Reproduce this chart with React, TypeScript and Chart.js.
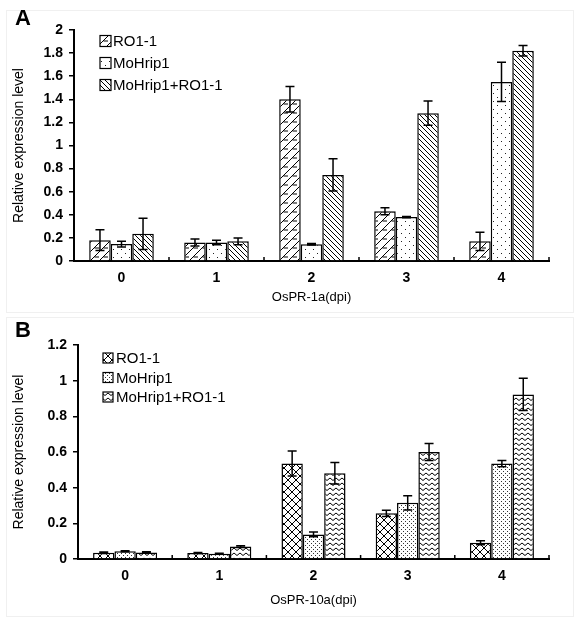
import React, { useEffect, useRef } from "react";
import { Chart, registerables } from "chart.js";
Chart.register(...registerables);

// ---------- data ----------
const categories = ["0", "1", "2", "3", "4"];
const seriesNames = ["RO1-1", "MoHrip1", "MoHrip1+RO1-1"];

// Panel A: OsPR-1a
const aTitleX = "OsPR-1a(dpi)";
const aRO1 = [0.18, 0.16, 1.4, 0.43, 0.17];
const aRO1Err = [0.09, 0.03, 0.11, 0.03, 0.08];
const aMoHrip1 = [0.147, 0.16, 0.145, 0.38, 1.55];
const aMoHrip1Err = [0.025, 0.02, 0.006, 0.006, 0.17];
const aCombo = [0.235, 0.17, 0.745, 1.28, 1.82];
const aComboErr = [0.135, 0.03, 0.14, 0.105, 0.046];
const aYMax = 2;
const aYStep = 0.2;

// Panel B: OsPR-10a
const bTitleX = "OsPR-10a(dpi)";
const bRO1 = [0.035, 0.034, 0.535, 0.256, 0.091];
const bRO1Err = [0.004, 0.003, 0.07, 0.017, 0.011];
const bMoHrip1 = [0.043, 0.03, 0.138, 0.315, 0.535];
const bMoHrip1Err = [0.003, 0.002, 0.013, 0.04, 0.018];
const bCombo = [0.037, 0.07, 0.481, 0.6, 0.923];
const bComboErr = [0.003, 0.005, 0.06, 0.047, 0.09];
const bYMax = 1.2;
const bYStep = 0.2;

const yTitle = "Relative expression level";
const FONT = "'Liberation Sans', Arial, Helvetica, sans-serif";

// ---------- patterns ----------
function makePattern(kind: string): CanvasPattern | string {
  const c = document.createElement("canvas");
  let w = 8, h = 8;
  if (kind === "diagDense") { w = 5; h = 5; }
  if (kind === "dotsDense") { w = 4; h = 4; }
  if (kind === "wave") { w = 6; h = 5; }
  if (kind === "shingle") { w = 9; h = 9; }
  c.width = w; c.height = h;
  const g = c.getContext("2d");
  if (!g) return "#fff";
  g.fillStyle = "#fff";
  g.fillRect(0, 0, w, h);
  g.strokeStyle = "#000";
  g.fillStyle = "#000";
  g.lineWidth = 1;
  const line = (x1: number, y1: number, x2: number, y2: number) => {
    g.beginPath(); g.moveTo(x1, y1); g.lineTo(x2, y2); g.stroke();
  };
  switch (kind) {
    case "shingle":
      line(-1, h + 1, w + 1, -1);
      line(w / 2, h / 2 + 0.5, w, h / 2 + 0.5);
      break;
    case "dotsSparse":
      g.fillStyle = "#222";
      g.fillRect(1, 1, 1, 1);
      g.fillRect(5, 5, 1, 1);
      break;
    case "diagDense":
      line(-1, -1, w + 1, h + 1);
      line(-1, h - 1, 1, h + 1);
      line(w - 1, -1, w + 1, 1);
      break;
    case "cross":
      line(-1, -1, w + 1, h + 1);
      line(-1, h + 1, w + 1, -1);
      break;
    case "dotsDense":
      g.fillStyle = "#333";
      g.fillRect(1, 1, 1, 1);
      g.fillRect(3, 3, 1, 1);
      break;
    case "wave":
      g.beginPath();
      g.moveTo(0, 1);
      g.lineTo(w / 2, 3.5);
      g.lineTo(w, 1);
      g.stroke();
      break;
  }
  const p = g.createPattern(c, "repeat");
  return p || "#fff";
}

// ---------- plugin ----------
function makeExtras(errs: number[][], letter: string, legend: { x: number; y: number; gap: number; box: number; textX: number }) {
  return {
    id: "extras" + letter,
    afterDraw(chart: any) {
      const ctx: CanvasRenderingContext2D = chart.ctx;
      const ys = chart.scales.y;
      const xs = chart.scales.x;
      const area = chart.chartArea;
      ctx.save();
      // error bars
      ctx.strokeStyle = "#000";
      ctx.lineWidth = 1.5;
      chart.data.datasets.forEach((ds: any, di: number) => {
        const meta = chart.getDatasetMeta(di);
        meta.data.forEach((bar: any, i: number) => {
          const v = ds.data[i] as number;
          const e = errs[di][i];
          const yt = ys.getPixelForValue(v + e);
          const yb = ys.getPixelForValue(Math.max(0, v - e));
          const cx = bar.x;
          const cap = 4.5;
          ctx.beginPath();
          ctx.moveTo(cx, yt); ctx.lineTo(cx, yb);
          ctx.moveTo(cx - cap, yt); ctx.lineTo(cx + cap, yt);
          ctx.moveTo(cx - cap, yb); ctx.lineTo(cx + cap, yb);
          ctx.stroke();
        });
      });
      // x-axis inner tick marks between categories
      ctx.lineWidth = 1.5;
      const n = chart.data.labels.length;
      for (let i = 0; i < n - 1; i++) {
        const xx = (xs.getPixelForValue(i) + xs.getPixelForValue(i + 1)) / 2;
        ctx.beginPath(); ctx.moveTo(xx, area.bottom); ctx.lineTo(xx, area.bottom - 4); ctx.stroke();
      }
      ctx.beginPath(); ctx.moveTo(area.right, area.bottom); ctx.lineTo(area.right, area.bottom - 4); ctx.stroke();
      // legend
      ctx.font = "15px " + FONT;
      ctx.textBaseline = "middle";
      ctx.textAlign = "left";
      chart.data.datasets.forEach((ds: any, di: number) => {
        const cy = legend.y + di * legend.gap;
        const bx = legend.x;
        const by = cy - legend.box / 2;
        ctx.fillStyle = ds.backgroundColor;
        ctx.fillRect(bx, by, legend.box, legend.box);
        ctx.strokeStyle = "#000";
        ctx.lineWidth = 1.2;
        ctx.strokeRect(bx, by, legend.box, legend.box);
        ctx.fillStyle = "#000";
        ctx.fillText(ds.label, legend.textX, cy + 1);
      });
      // panel letter
      ctx.font = "bold 22px " + FONT;
      ctx.textBaseline = "alphabetic";
      ctx.fillStyle = "#000";
      ctx.fillText(letter, 15, 25);
      ctx.restore();
    },
  };
}

type PanelCfg = {
  series: number[][];
  errs: number[][];
  patterns: string[];
  yMax: number;
  yStep: number;
  xTitle: string;
  letter: string;
  padTop: number;
  axisLeft: number;
  axisBottom: number;
  xTitlePad: number;
  legend: { x: number; y: number; gap: number; box: number; textX: number };
};

const W = 579;
const H = 312;
const RIGHT = 549;

function buildChart(canvas: HTMLCanvasElement, cfg: PanelCfg) {
  const datasets = cfg.series.map((vals, i) => ({
    label: seriesNames[i],
    data: vals,
    backgroundColor: makePattern(cfg.patterns[i]) as any,
    borderColor: "#000",
    borderWidth: 1.5,
    categoryPercentage: 0.68,
    barPercentage: 1.0,
  }));
  return new Chart(canvas, {
    type: "bar",
    data: { labels: categories, datasets },
    options: {
      responsive: false,
      animation: false,
      devicePixelRatio: 1,
      layout: { padding: { left: 0, right: W - RIGHT, top: cfg.padTop, bottom: 0 } },
      plugins: { legend: { display: false }, tooltip: { enabled: false } },
      scales: {
        x: {
          type: "category",
          offset: true,
          grid: { display: false, drawTicks: false },
          border: { display: true, color: "#000", width: 2 },
          ticks: { color: "#000", font: { family: FONT, size: 14, weight: "bold" }, padding: 9 },
          title: {
            display: true,
            text: cfg.xTitle,
            color: "#000",
            font: { family: FONT, size: 13 },
            padding: { top: 0, bottom: cfg.xTitlePad },
          },
          afterFit: (s: any) => { s.height = H - cfg.axisBottom; },
        },
        y: {
          type: "linear",
          min: 0,
          max: cfg.yMax,
          grid: { drawOnChartArea: false, drawTicks: true, tickLength: 5, color: "#000", lineWidth: 1.5 },
          border: { display: true, color: "#000", width: 2 },
          ticks: {
            stepSize: cfg.yStep,
            color: "#000",
            padding: 6,
            font: { family: FONT, size: 14, weight: "bold" },
            callback: (v: any) => String(Math.round(Number(v) * 10) / 10),
          },
          title: {
            display: true,
            text: yTitle,
            color: "#000",
            font: { family: FONT, size: 14 },
            padding: { top: 11, bottom: 0 },
          },
          afterFit: (s: any) => { s.width = cfg.axisLeft; },
        },
      },
    } as any,
    plugins: [makeExtras(cfg.errs, cfg.letter, cfg.legend)],
  });
}

export default function App() {
  const refA = useRef<HTMLCanvasElement>(null);
  const refB = useRef<HTMLCanvasElement>(null);

  useEffect(() => {
    if (!refA.current || !refB.current) return;
    const ca = buildChart(refA.current, {
      series: [aRO1, aMoHrip1, aCombo],
      errs: [aRO1Err, aMoHrip1Err, aComboErr],
      patterns: ["shingle", "dotsSparse", "diagDense"],
      yMax: aYMax,
      yStep: aYStep,
      xTitle: aTitleX,
      letter: "A",
      padTop: 30,
      axisLeft: 74,
      axisBottom: 261,
      xTitlePad: 7,
      legend: { x: 100, y: 41, gap: 22, box: 11, textX: 113 },
    });
    const cb = buildChart(refB.current, {
      series: [bRO1, bMoHrip1, bCombo],
      errs: [bRO1Err, bMoHrip1Err, bComboErr],
      patterns: ["cross", "dotsDense", "wave"],
      yMax: bYMax,
      yStep: bYStep,
      xTitle: bTitleX,
      letter: "B",
      padTop: 33,
      axisLeft: 78,
      axisBottom: 247,
      xTitlePad: 16,
      legend: { x: 103, y: 46, gap: 19.5, box: 10, textX: 116 },
    });
    return () => { ca.destroy(); cb.destroy(); };
  }, []);

  return (
    <div style={{ position: "absolute", left: 0, top: 0, width: W, height: 624, background: "#fff" }}>
      <div style={{ position: "absolute", left: 6, top: 10, width: 566, height: 301, border: "1px solid #f0f0f0" }} />
      <div style={{ position: "absolute", left: 6, top: 317, width: 566, height: 298, border: "1px solid #f0f0f0" }} />
      <canvas ref={refA} width={W} height={H} style={{ position: "absolute", left: 0, top: 0, width: W, height: H }} />
      <canvas ref={refB} width={W} height={H} style={{ position: "absolute", left: 0, top: H, width: W, height: H }} />
    </div>
  );
}
